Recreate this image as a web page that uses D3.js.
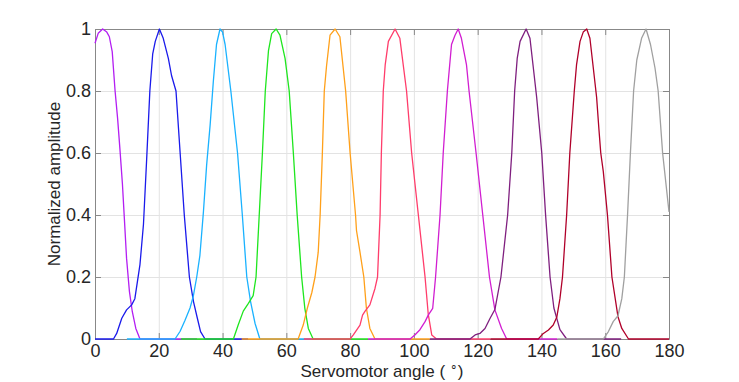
<!DOCTYPE html>
<html>
<head>
<meta charset="utf-8">
<script src="https://cdn.jsdelivr.net/npm/d3@7"></script>
<style>
  body { margin: 0; background: #fff; }
  text { font-family: "Liberation Sans", Arial, sans-serif; fill: #262626; }
</style>
</head>
<body>
<div id="main"></div>
<script>
var ctx = {
    w: 739,
    h: 382,
    left: 95,
    right: 669,
    top: 29,
    bottom: 339,
};

// axis ticks
const xTicks = [0, 20, 40, 60, 80, 100, 120, 140, 160, 180];
const yTicks = [0, 0.2, 0.4, 0.6, 0.8, 1];
const yTickLabels = ["0", "0.2", "0.4", "0.6", "0.8", "1"];

// [angle (deg), normalized amplitude]
const beam1 = [[0,0.954],[1,0.986],[2.4,1],[3.7,0.99],[4.5,0.975],[5.4,0.927],[6.3,0.80],[7.1,0.71],[7.8,0.615],[8.6,0.50],[9.2,0.39],[9.9,0.26],[10.8,0.153],[11.7,0.088],[12.8,0.034],[14.1,0],[32,0]];
const beam2 = [[0,0],[5.8,0],[6.8,0.018],[8.4,0.067],[9.9,0.094],[11.5,0.11],[12.5,0.13],[14.1,0.24],[15.2,0.37],[16.2,0.58],[17.2,0.80],[18.1,0.92],[18.9,0.96],[20.2,1],[21.4,0.97],[23.0,0.905],[24.0,0.85],[25.4,0.8],[26.7,0.6],[28.0,0.4],[29.6,0.2],[30.9,0.12],[32.1,0.067],[33.1,0.024],[34.5,0],[48,0]];
const beam3 = [[10,0],[25.1,0],[26.7,0.025],[28.2,0.06],[29.8,0.10],[30.8,0.137],[31.9,0.20],[32.9,0.27],[34.0,0.41],[35.0,0.56],[36.1,0.69],[37.1,0.83],[38.1,0.95],[39.2,1],[40.0,0.99],[40.8,0.95],[42.6,0.8],[44.7,0.6],[46.2,0.4],[47.6,0.2],[48.8,0.12],[50.2,0.05],[51.7,0],[68,0]];
const beam4 = [[27,0],[43.4,0],[44.9,0.045],[46.5,0.09],[48.1,0.115],[49.6,0.14],[50.5,0.2],[51.5,0.4],[52.5,0.6],[53.4,0.8],[54.4,0.93],[55.4,0.985],[56.8,1],[58.0,0.98],[59.6,0.905],[60.9,0.8],[62.2,0.6],[63.4,0.4],[64.8,0.2],[65.8,0.099],[66.9,0.034],[68.4,0],[85.6,0]];
const beam5 = [[46,0],[63.7,0],[65.3,0.045],[66.6,0.1],[68.0,0.15],[69.0,0.2],[70.0,0.28],[70.6,0.4],[71.3,0.6],[71.9,0.8],[72.6,0.88],[73.7,0.98],[75.3,1],[76.8,0.975],[78.6,0.8],[80.0,0.6],[81.7,0.4],[82.0,0.35],[83.1,0.28],[84.3,0.2],[85.1,0.1],[86.2,0.034],[87.8,0],[105,0]];
const beam6 = [[65.5,0],[80,0],[81,0.013],[83.1,0.045],[83.9,0.077],[84.7,0.09],[86.2,0.11],[87.8,0.163],[88.6,0.2],[89.4,0.4],[89.8,0.6],[90.4,0.8],[91.0,0.884],[92.0,0.96],[94.1,1],[95.6,0.97],[97.7,0.8],[99.3,0.6],[101.4,0.4],[103.5,0.2],[104.5,0.08],[105.6,0.013],[107.1,0],[124,0]];
const beam7 = [[85.6,0],[98.8,0],[100.3,0.013],[101.9,0.03],[103.5,0.056],[104.5,0.077],[105.9,0.099],[106.8,0.2],[108.2,0.4],[109.2,0.6],[110.5,0.8],[111.8,0.95],[112.9,0.98],[113.9,1],[114.9,0.97],[116.5,0.884],[117.3,0.8],[119.5,0.6],[121.6,0.4],[123.7,0.2],[125.4,0.094],[127.5,0.034],[129.1,0],[145,0]];
const beam8 = [[105,0],[117.6,0],[119.2,0.013],[120.7,0.018],[122.3,0.034],[123.9,0.067],[125.4,0.095],[127.3,0.2],[129.4,0.4],[130.7,0.6],[131.6,0.8],[132.4,0.905],[133.3,0.96],[135.2,1],[136.4,0.97],[137.4,0.88],[138.5,0.78],[140.1,0.6],[141.3,0.4],[142.7,0.2],[143.9,0.1],[145.8,0.03],[147.9,0],[165,0]];
const beam9 = [[124,0],[139.0,0],[140.6,0.018],[142.2,0.029],[143.7,0.045],[144.8,0.07],[145.8,0.13],[146.6,0.2],[147.9,0.4],[148.9,0.6],[150.3,0.8],[151.0,0.884],[152.1,0.96],[153.1,0.99],[154.2,1],[155.2,0.97],[156.2,0.88],[157.3,0.78],[158.0,0.68],[158.6,0.6],[159.4,0.54],[160.7,0.4],[162.1,0.2],[164.0,0.072],[165.2,0.034],[167.3,0],[180,0]];
const beam10 = [[145,0],[159.4,0],[161.0,0.024],[162.5,0.056],[164.0,0.075],[165.2,0.13],[166.0,0.2],[167.0,0.4],[167.9,0.6],[168.9,0.8],[169.9,0.9],[171.4,0.97],[172.8,1],[174.2,0.95],[175.6,0.875],[176.6,0.8],[178.0,0.6],[180,0.41]];

const beams = [beam1, beam2, beam3, beam4, beam5, beam6, beam7, beam8, beam9, beam10];
const beamColors = ["#b31ef2", "#1a1aeb", "#1ab2ff", "#1ee61e", "#ffa01a",
                    "#ff3d6b", "#d11ed1", "#7f1f7f", "#b0002a", "#a0a0a0"];

var createViz = function(){
    var svgEl = d3.select("#main").append("svg")
        .attr("width", ctx.w)
        .attr("height", ctx.h);
    ctx.svg = svgEl;

    ctx.x = d3.scaleLinear().domain([0, 180]).range([ctx.left, ctx.right]);
    ctx.y = d3.scaleLinear().domain([0, 1]).range([ctx.bottom, ctx.top]);

    drawGrid(svgEl);
    drawAxes(svgEl);
    drawBeams(svgEl);
    drawLabels(svgEl);
};

var drawGrid = function(svgEl){
    var gridG = svgEl.append("g").attr("id", "grid");
    gridG.append("g")
        .attr("transform", "translate(0," + ctx.bottom + ")")
        .call(d3.axisBottom(ctx.x).tickValues(xTicks)
            .tickSize(-(ctx.bottom - ctx.top)).tickFormat(""));
    gridG.append("g")
        .attr("transform", "translate(" + ctx.left + ",0)")
        .call(d3.axisLeft(ctx.y).tickValues(yTicks)
            .tickSize(-(ctx.right - ctx.left)).tickFormat(""));
    gridG.selectAll(".domain").remove();
    gridG.selectAll("line").attr("stroke", "#e3e3e3").attr("stroke-width", 1);
};

var drawAxes = function(svgEl){
    var axG = svgEl.append("g").attr("id", "axes");
    axG.append("g")
        .attr("transform", "translate(0," + ctx.bottom + ")")
        .call(d3.axisBottom(ctx.x).tickValues(xTicks)
            .tickSizeInner(-6).tickSizeOuter(0).tickPadding(5));
    axG.append("g")
        .attr("transform", "translate(0," + ctx.top + ")")
        .call(d3.axisTop(ctx.x).tickValues(xTicks)
            .tickSizeInner(-6).tickSizeOuter(0).tickFormat(""));
    axG.append("g")
        .attr("transform", "translate(" + ctx.left + ",0)")
        .call(d3.axisLeft(ctx.y).tickValues(yTicks)
            .tickSizeInner(-6).tickSizeOuter(0).tickPadding(4)
            .tickFormat((d, i) => yTickLabels[i]));
    axG.append("g")
        .attr("transform", "translate(" + ctx.right + ",0)")
        .call(d3.axisRight(ctx.y).tickValues(yTicks)
            .tickSizeInner(-6).tickSizeOuter(0).tickFormat(""));
    axG.selectAll(".domain").attr("stroke", "#888").attr("stroke-width", 1);
    axG.selectAll(".tick line").attr("stroke", "#888");
    axG.selectAll(".tick text")
        .attr("font-size", 18)
        .attr("font-family", "Liberation Sans, Arial, sans-serif")
        .attr("fill", "#262626");
};

var drawBeams = function(svgEl){
    var line = d3.line()
        .x(d => ctx.x(d[0]))
        .y(d => ctx.y(d[1]));
    var beamG = svgEl.append("g").attr("id", "beams");
    beamG.selectAll("path.beam")
        .data(beams)
        .enter()
        .append("path")
        .attr("class", "beam")
        .attr("d", line)
        .attr("fill", "none")
        .attr("stroke", (d, i) => beamColors[i])
        .attr("stroke-width", 1.3)
        .attr("stroke-linejoin", "round");
};

var drawLabels = function(svgEl){
    svgEl.append("text")
        .attr("transform", "translate(60," + ((ctx.top + ctx.bottom) / 2) + ") rotate(-90)")
        .attr("text-anchor", "middle")
        .attr("font-size", 17)
        .text("Normalized amplitude");
    var xl = svgEl.append("text")
        .attr("x", (ctx.left + ctx.right) / 2)
        .attr("y", 377)
        .attr("text-anchor", "middle")
        .attr("font-size", 17);
    xl.append("tspan").text("Servomotor angle ( ");
    xl.append("tspan").attr("dy", -6).attr("font-size", 12).text("\u2218");
    xl.append("tspan").attr("dy", 6).text(")");
};

createViz();
</script>
</body>
</html>
